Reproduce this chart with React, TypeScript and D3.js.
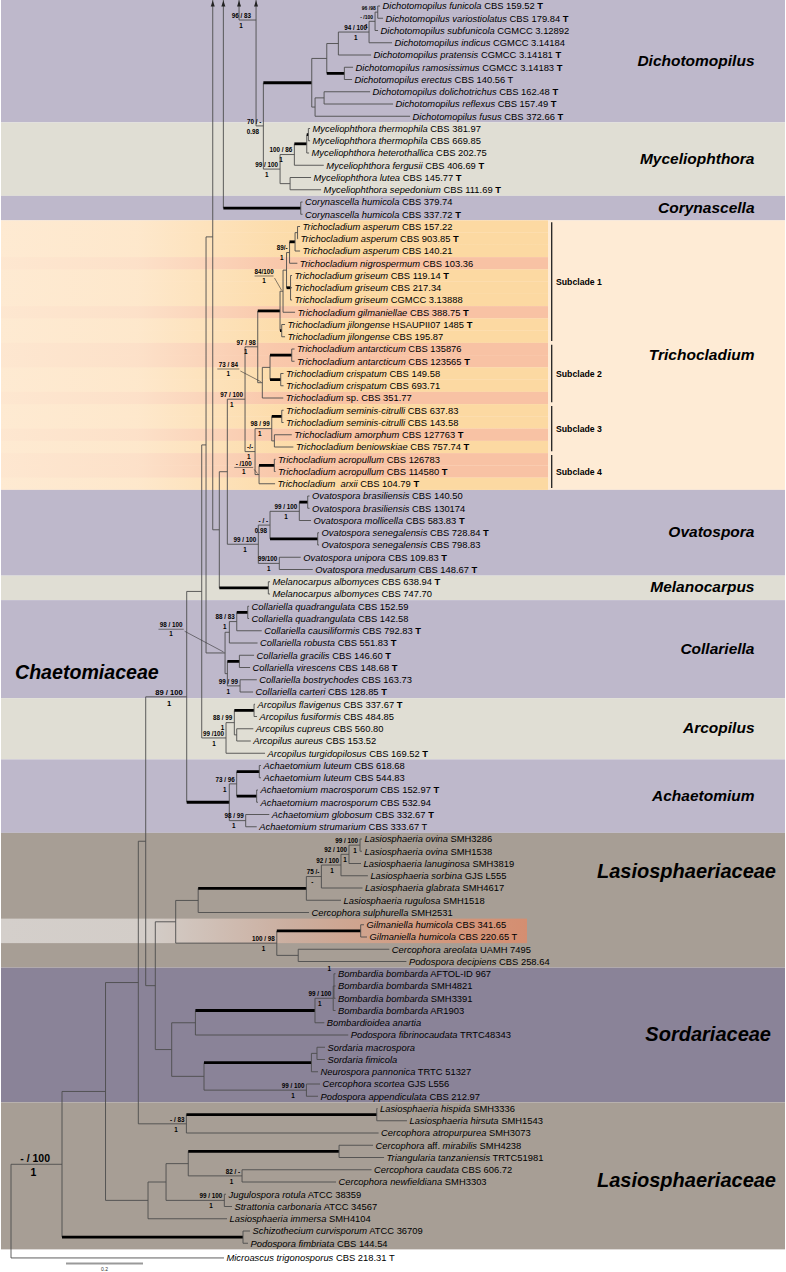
import React from 'react';
import * as d3 from 'd3';

const W = 786;
const H = 1272;
const FONT = "'Liberation Sans', Arial, Helvetica, sans-serif";

// ---------------- DATA ----------------
// [name (italic; words in [] roman), strain, type-flag: B bold T, R regular T]
const taxa: [string, string, string][] = [
  ['Dichotomopilus funicola', 'CBS 159.52', 'B'],
  ['Dichotomopilus variostiolatus', 'CBS 179.84', 'B'],
  ['Dichotomopilus subfunicola', 'CGMCC 3.12892', ''],
  ['Dichotomopilus indicus', 'CGMCC 3.14184', ''],
  ['Dichotomopilus pratensis', 'CGMCC 3.14181', 'B'],
  ['Dichotomopilus ramosissimus', 'CGMCC 3.14183', 'B'],
  ['Dichotomopilus erectus', 'CBS 140.56', 'R'],
  ['Dichotomopilus dolichotrichus', 'CBS 162.48', 'B'],
  ['Dichotomopilus reflexus', 'CBS 157.49', 'B'],
  ['Dichotomopilus fusus', 'CBS 372.66', 'B'],
  ['Myceliophthora thermophila', 'CBS 381.97', ''],
  ['Myceliophthora thermophila', 'CBS 669.85', ''],
  ['Myceliophthora heterothallica', 'CBS 202.75', ''],
  ['Myceliophthora fergusii', 'CBS 406.69', 'B'],
  ['Myceliophthora lutea', 'CBS 145.77', 'B'],
  ['Myceliophthora sepedonium', 'CBS 111.69', 'B'],
  ['Corynascella humicola', 'CBS 379.74', ''],
  ['Corynascella humicola', 'CBS 337.72', 'B'],
  ['Trichocladium asperum', 'CBS 157.22', ''],
  ['Trichocladium asperum', 'CBS 903.85', 'B'],
  ['Trichocladium asperum', 'CBS 140.21', ''],
  ['Trichocladium nigrospermum', 'CBS 103.36', ''],
  ['Trichocladium griseum', 'CBS 119.14', 'B'],
  ['Trichocladium griseum', 'CBS 217.34', ''],
  ['Trichocladium griseum', 'CGMCC 3.13888', ''],
  ['Trichocladium gilmaniellae', 'CBS 388.75', 'B'],
  ['Trichocladium jilongense', 'HSAUPII07 1485', 'B'],
  ['Trichocladium jilongense', 'CBS 195.87', ''],
  ['Trichocladium antarcticum', 'CBS 135876', ''],
  ['Trichocladium antarcticum', 'CBS 123565', 'B'],
  ['Trichocladium crispatum', 'CBS 149.58', ''],
  ['Trichocladium crispatum', 'CBS 693.71', ''],
  ['Trichocladium [sp.]', 'CBS 351.77', ''],
  ['Trichocladium seminis-citrulli', 'CBS 637.83', ''],
  ['Trichocladium seminis-citrulli', 'CBS 143.58', ''],
  ['Trichocladium amorphum', 'CBS 127763', 'B'],
  ['Trichocladium beniowskiae', 'CBS 757.74', 'B'],
  ['Trichocladium acropullum', 'CBS 126783', ''],
  ['Trichocladium acropullum', 'CBS 114580', 'B'],
  ['Trichocladium  arxii', 'CBS 104.79', 'B'],
  ['Ovatospora brasiliensis', 'CBS 140.50', ''],
  ['Ovatospora brasiliensis', 'CBS 130174', ''],
  ['Ovatospora mollicella', 'CBS 583.83', 'B'],
  ['Ovatospora senegalensis', 'CBS 728.84', 'B'],
  ['Ovatospora senegalensis', 'CBS 798.83', ''],
  ['Ovatospora unipora', 'CBS 109.83', 'B'],
  ['Ovatospora medusarum', 'CBS 148.67', 'B'],
  ['Melanocarpus albomyces', 'CBS 638.94', 'B'],
  ['Melanocarpus albomyces', 'CBS 747.70', ''],
  ['Collariella quadrangulata', 'CBS 152.59', ''],
  ['Collariella quadrangulata', 'CBS 142.58', ''],
  ['Collariella causiliformis', 'CBS 792.83', 'B'],
  ['Collariella robusta', 'CBS 551.83', 'B'],
  ['Collariella gracilis', 'CBS 146.60', 'B'],
  ['Collariella virescens', 'CBS 148.68', 'B'],
  ['Collariella bostrychodes', 'CBS 163.73', ''],
  ['Collariella carteri', 'CBS 128.85', 'B'],
  ['Arcopilus flavigenus', 'CBS 337.67', 'B'],
  ['Arcopilus fusiformis', 'CBS 484.85', ''],
  ['Arcopilus cupreus', 'CBS 560.80', ''],
  ['Arcopilus aureus', 'CBS 153.52', ''],
  ['Arcopilus turgidopilosus', 'CBS 169.52', 'B'],
  ['Achaetomium luteum', 'CBS 618.68', ''],
  ['Achaetomium luteum', 'CBS 544.83', ''],
  ['Achaetomium macrosporum', 'CBS 152.97', 'B'],
  ['Achaetomium macrosporum', 'CBS 532.94', ''],
  ['Achaetomium globosum', 'CBS 332.67', 'B'],
  ['Achaetomium strumarium', 'CBS 333.67', 'R'],
  ['Lasiosphaeria ovina', 'SMH3286', ''],
  ['Lasiosphaeria ovina', 'SMH1538', ''],
  ['Lasiosphaeria lanuginosa', 'SMH3819', ''],
  ['Lasiosphaeria sorbina', 'GJS L555', ''],
  ['Lasiosphaeria glabrata', 'SMH4617', ''],
  ['Lasiosphaeria rugulosa', 'SMH1518', ''],
  ['Cercophora sulphurella', 'SMH2531', ''],
  ['Gilmaniella humicola', 'CBS 341.65', ''],
  ['Gilmaniella humicola', 'CBS 220.65', 'R'],
  ['Cercophora areolata', 'UAMH 7495', ''],
  ['Podospora decipiens', 'CBS 258.64', ''],
  ['Bombardia bombarda', 'AFTOL-ID 967', ''],
  ['Bombardia bombarda', 'SMH4821', ''],
  ['Bombardia bombarda', 'SMH3391', ''],
  ['Bombardia bombarda', 'AR1903', ''],
  ['Bombardioidea anartia', '', ''],
  ['Podospora fibrinocaudata', 'TRTC48343', ''],
  ['Sordaria macrospora', '', ''],
  ['Sordaria fimicola', '', ''],
  ['Neurospora pannonica', 'TRTC 51327', ''],
  ['Cercophora scortea', 'GJS L556', ''],
  ['Podospora appendiculata', 'CBS 212.97', ''],
  ['Lasiosphaeria hispida', 'SMH3336', ''],
  ['Lasiosphaeria hirsuta', 'SMH1543', ''],
  ['Cercophora atropurpurea', 'SMH3073', ''],
  ['Cercophora [aff.] mirabilis', 'SMH4238', ''],
  ['Triangularia tanzaniensis', 'TRTC51981', ''],
  ['Cercophora caudata', 'CBS 606.72', ''],
  ['Cercophora newfieldiana', 'SMH3303', ''],
  ['Jugulospora rotula', 'ATCC 38359', ''],
  ['Strattonia carbonaria', 'ATCC 34567', ''],
  ['Lasiosphaeria immersa', 'SMH4104', ''],
  ['Schizothecium curvisporum', 'ATCC 36709', ''],
  ['Podospora fimbriata', 'CBS 144.54', ''],
  ['Microascus trigonosporus', 'CBS 218.31', 'R'],
];
const outgroupIndex = 102;
const outgroupGap = 0.2;
// rows of lineages continuing above the figure (arrows)
const hiddenRows: Record<string, number> = { h1: -32.5, h2: -5.4, h3: -7.5 };

const highlightRows = [21, 25, 28, 29, 32, 35, 37, 38];
const gilmaniellaRows = [75, 76];

const bandNames = ['Dichotomopilus', 'Myceliophthora', 'Corynascella', 'Trichocladium', 'Ovatospora', 'Melanocarpus', 'Collariella', 'Arcopilus', 'Achaetomium', 'Lasiosphaeriaceae', 'Sordariaceae', 'Lasiosphaeriaceae'];
const bandFirst = [0, 10, 16, 18, 40, 47, 49, 57, 62, 68, 79, 90];
const bandLast = [9, 15, 17, 39, 46, 48, 56, 61, 67, 78, 89, 101];
const bandKind = ['lav', 'beige', 'lav', 'peach', 'lav', 'beige', 'lav', 'beige', 'lav', 'taupe', 'sord', 'taupe'];
const bandIsFamily = [false, false, false, false, false, false, false, false, false, true, true, true];
const familyLabelRow = [70.6, 83.9, 95.8];

const subcladeNames = ['Subclade 1', 'Subclade 2', 'Subclade 3', 'Subclade 4'];
const subcladeFirst = [18, 28, 33, 37];
const subcladeLast = [27, 32, 36, 39];

const scaleBarValue = 0.2;

// Tree (Newick): 'bootstrap|posterior|id', * = thick (fully supported) branch
const nwkDichotomopilus =
  "((((((t0:0.006,t1:0.0138)'96 /98||Dfv':0.007,t2:0.0078)'- /100|1|Dm':0.0156,t3:0.0597)'94 / 100|1':0.0797,t4:0.0849):0.0301,(t5:0.0226,t6:0.02)*:0.0457):0.039,((t7:0.1195,t8:0.1792):0.0234,t9:0.2468):0.0086)";
const nwkMyceliophthora =
  "((((t10:0.0044,t11:0.0044)*:0.0042,t12:0.006)*:0.0322,t13:0.0764)'100 / 86|1':0.0371,(t14:0.0545,t15:0.0805):0.026)'99 / 100|1'";
const nwkN263 = '(' + nwkDichotomopilus + '*:0.1257,' + nwkMyceliophthora + ":0.0434)'70 / -|0.98'";
const nwkN256 = '(h3:0.02,' + nwkN263 + ":0.019)'96 / 83|1|N256'";
const nwkN239 = '(h2:0.02,' + nwkN256 + ':0.0442)';
const nwkCorynascella = '(h1:0.02,(t16:0.0047,t17:0.0047)*:0.201)';
const nwkTop = '(' + nwkCorynascella + ':0.0216,' + nwkN239 + ':0.0623)';

const nwkSub1 =
  "((((((t18:0.0065,t19:0.0013):0.0065,t20:0.013)*:0.0143,t21:0.0203)'89/-|1':0.0078,(t22:0.0039,t23:0.0039,t24:0.0039)*:0.0104):0.0091,t25:0.0312)'84/100|1|N283':0.0078,(t26:0.0086,t27:0.0086)*:0.0044)";
const nwkSub2 =
  "(((t28:0.0073,t29:0.0073)*:0.0564,(t30:0.0073,t31:0.0073)*:0.0278):0.02,t32:0.0545)'73 / 84|1|S2'";
const nwkSub3 = "((t33:0.0047,t34:0.0047)*:0.026,(t35:0.0452,t36:0.0494):0.0068)'98 / 99|1'";
const nwkSub4 = "((t37:0.0031,t38:0.0031)*:0.0397,t39:0.0416)'- /100|1|S4'";
const nwkTrichocladium =
  '((' + nwkSub1 + '*:0.0579,' + nwkSub2 + ":0.0119)'97 / 98|1':0.033,(" + nwkSub3 + ':0.0434,' + nwkSub4 + ":0.0104)'-/-|1':0.026)'97 / 100|1'";
const nwkOvatospora =
  "((((t40:0.0047,t41:0.0047)*:0.0218,t42:0.0304)'99 / 100|1':0.0761,(t43:0.0034,t44:0.0034)*:0.1239)'- / -|0.98':0.0304,(t45:0.0556,t46:0.0868)'99/100|1':0.0545)'99 / 100|1'";
const nwkN219 = '((' + nwkTrichocladium + ':0.046,' + nwkOvatospora + ':0.0805):0.0208,(t47:0.0044,t48:0.0044)*:0.1273)';
const nwkN212 = '(' + nwkTop + ':0.006,' + nwkN219 + ':0.0171)';
const nwkCollariella =
  "((((t49:0.0034,t50:0.0034)*:0.0286,t51:0.0649)'88 / 83|1':0.0192,t52:0.0732):0.0112,((t53:0.0382,t54:0.0278)*:0.0312,(t55:0.0434,t56:0.0338)'99 / 99|1':0.033):0.006)'98 / 100|1|C0'";
const nwkArcopilus =
  "(((t57:0.0026,t58:0.0078)*:0.0512,(t59:0.0431,t60:0.0364):0.0062)'88 / 99|1':0.0216,t61:0.1013)'99 /100|1'";
const nwkAchaetomium =
  "(((t62:0.0044,t63:0.0044)*:0.0587,(t64:0.0034,t65:0.0034)*:0.0519)'73 / 96|1':0.0192,(t66:0.0613,t67:0.0286)'98 / 99|1':0.0426)";
const nwkChaetomiaceae =
  '(((' + nwkN212 + ':0.0174,' + nwkCollariella + ':0.0494):0.0112,' + nwkArcopilus + ':0.0631):0.039,' + nwkAchaetomium + "*:0.1106)'89 / 100|1|CH'";
const nwkLasioUpper =
  "(((((((t68:0.0052,t69:0.0052)'99 / 100|1|OV':0.0286,t70:0.0312)'92 / 100|1|OL':0.0208,t71:0.0699)'92 / 100|1|P1c':0.0509,t72:0.1068)'75 /-|-':0.039,t73:0.0899)*:0.281,t74:0.2878):0.0584,((t75:0.0086,t76:0.0164)*:0.2179,(t77:0.2366,t78:0.281):0.0556)'100 / 98|1':0.2626)";
const nwkSordariaceae =
  "(((((t79:0.004,t80:0.004,t81:0.004)'1||BT':0.002,t82:0.006)'99 / 100|1':0.0473,t83:0.0242)*:0.3106,t84:0.3969):0.0616,(((t85:0.0208,t86:0.0208):0.0145,t87:0.0171)*:0.279,(t88:0.0353,t89:0.0301)'99 / 100|1':0.266):0.0839)";
const nwkHispida = "((t90:0.0018,t91:0.0784)*:0.4945,t92:0.4992)'- / 83|1'";
const nwkLasioLower =
  "((((t93:0.0883,t94:0.1169)*:0.3917,(t95:0.3364,t96:0.2442)'82 / -|1':0.1397):0.0577,(t97:0.0044,t98:0.02)'99 / 100|1':0.1514):0.0468,t99:0.2052)";
const nwkTree =
  '(((((' + nwkChaetomiaceae + ':0.1065,(' + nwkLasioUpper + ':0.053,' + nwkSordariaceae + ':0.0426):0.0249):0.0192,' +
  nwkHispida + ':0.1249):0.0852,' + nwkLasioLower + ":0.1104):0.113,(t100:0.0182,t101:0.013)*:0.4701)'- / 100|1|A':0.1325,t102:0.5532)";

// ---------------- STYLE ----------------
const colors: Record<string, string> = {
  lav: '#BEB8CB',
  beige: '#E0DED4',
  peach: '#FEEBD5',
  taupe: '#A79E95',
  sord: '#8A8398',
};
const labelStyle: Record<string, any> = {
  A: { fs: 10.5, dx: -12 },
  CH: { fs: 7.6, dx: -4 },
  Dfv: { fs: 5 },
  Dm: { fs: 5 },
  N256: { dx: -5 },
  OV: { postX: -3 },
  OL: { postX: -2 },
  P1c: { postX: -7 },
  N283: { callout: [-19, -15.2] },
  S2: { callout: [-34, -13.7] },
  S4: { callout: [-15.3, -7.1] },
  C0: { callout: [-54, -23.7] },
  BT: { top: true },
};

// ---------------- PARSER ----------------
type PNode = { name?: string; label?: string; len: number; thick: boolean; children: PNode[] };
function parseNewick(s: string): PNode {
  let i = 0;
  const ws = () => { while (i < s.length && /\s/.test(s[i])) i++; };
  function node(): PNode {
    ws();
    const n: PNode = { len: 0, thick: false, children: [] };
    if (s[i] === '(') {
      i++;
      n.children.push(node());
      ws();
      while (s[i] === ',') { i++; n.children.push(node()); ws(); }
      if (s[i] !== ')') throw new Error('Expected ) at ' + i);
      i++;
      ws();
      if (s[i] === "'") {
        const j = s.indexOf("'", i + 1);
        n.label = s.slice(i + 1, j);
        i = j + 1;
      }
    } else {
      let j = i;
      while (j < s.length && !":,()*;' ".includes(s[j])) j++;
      n.name = s.slice(i, j);
      i = j;
    }
    ws();
    if (s[i] === '*') { n.thick = true; i++; }
    ws();
    if (s[i] === ':') {
      i++;
      let j = i;
      while (j < s.length && /[0-9.eE+-]/.test(s[j])) j++;
      n.len = parseFloat(s.slice(i, j));
      i = j;
    }
    return n;
  }
  const r = node();
  if (i < s.length) throw new Error('Unparsed newick remainder at ' + i);
  return r;
}

function rowOf(name: string): number {
  if (name.startsWith('h')) return hiddenRows[name];
  const k = +name.slice(1);
  return k === outgroupIndex ? k + outgroupGap : k;
}

// ---------------- COMPONENT ----------------
export default function App() {
  const xScale = d3.scaleLinear().domain([0, 1]).range([11, 396]);
  const yScale = d3.scaleLinear().domain([0, 102]).range([6, 1255.5]);
  const rowH = yScale(1) - yScale(0);

  const root: any = d3.hierarchy(parseNewick(nwkTree), (d: PNode) => (d.children.length ? d.children : null));
  root.eachBefore((n: any) => {
    n.cum = (n.parent ? n.parent.cum : 0) + (n.parent ? n.data.len : 0);
    n.px = xScale(n.cum);
  });
  root.eachAfter((n: any) => {
    if (!n.children) n.py = yScale(rowOf(n.data.name));
    else n.py = (n.children[0].py + n.children[n.children.length - 1].py) / 2;
  });

  const nodes: any[] = root.descendants();
  const thin = '#4d4d4d';

  const branchEls: any[] = [];
  const arrowEls: any[] = [];
  const supportEls: any[] = [];
  const leafEls: any[] = [];

  nodes.forEach((n: any, idx: number) => {
    const hidden = !n.children && n.data.name.startsWith('h');
    if (n.parent && !hidden && n.py > -20) {
      branchEls.push(
        <line key={'h' + idx} x1={n.parent.px} x2={n.px} y1={n.py} y2={n.py}
          stroke={n.data.thick ? '#000' : thin} strokeWidth={n.data.thick ? 2.8 : 0.9} />
      );
    }
    if (n.children) {
      const ys = n.children.map((c: any) => c.py);
      const y0 = Math.min(...ys), y1 = Math.max(...ys);
      if (y1 > 0) {
        branchEls.push(
          <line key={'v' + idx} x1={n.px} x2={n.px} y1={Math.max(y0, 0)} y2={y1} stroke={thin} strokeWidth={0.9} />
        );
        if (y0 < 0) {
          arrowEls.push(
            <path key={'a' + idx} d={`M${n.px},0.5L${n.px - 2},6.5L${n.px + 2},6.5Z`} fill="#222" />
          );
        }
      }
      if (n.data.label) {
        const [boot, post, id] = n.data.label.split('|');
        const st = (id && labelStyle[id]) || {};
        const fs = st.fs || 6.3;
        const bw = boot.length * fs * 0.5;
        if (st.callout) {
          const cx = n.px + st.callout[0];
          const uy = n.py + st.callout[1];
          supportEls.push(
            <g key={'s' + idx}>
              <text x={cx} y={uy - 1.8} fontSize={fs} fontWeight="bold" textAnchor="middle">{boot}</text>
              <line x1={cx - bw / 2} x2={cx + bw / 2} y1={uy} y2={uy} stroke="#333" strokeWidth={0.6} />
              <text x={cx} y={uy + 7} fontSize={fs} fontWeight="bold" textAnchor="middle">{post}</text>
              <line x1={cx + bw / 2 + 1} y1={uy + 2} x2={n.px - 1.5} y2={n.py - 1} stroke="#333" strokeWidth={0.6} />
            </g>
          );
        } else if (st.top) {
          supportEls.push(
            <text key={'s' + idx} x={n.px - 3} y={y0 - 2.5} fontSize={fs} fontWeight="bold" textAnchor="end">{boot}</text>
          );
        } else {
          const dx = st.dx || -2;
          const right = n.px + dx;
          const postX = st.postX !== undefined ? right + st.postX : right - bw * 0.45;
          supportEls.push(
            <g key={'s' + idx}>
              <text x={right} y={n.py - 2.2} fontSize={fs} fontWeight="bold" textAnchor="end">{boot}</text>
              {post ? (
                <text x={postX} y={n.py + fs + 1.4} fontSize={fs} fontWeight="bold" textAnchor="middle">{post}</text>
              ) : null}
            </g>
          );
        }
      }
    } else if (!hidden) {
      const k = +n.data.name.slice(1);
      const [nm, strain, type] = taxa[k];
      const parts = nm.split(/(\[[^\]]+\])/).filter((p) => p.length);
      leafEls.push(
        <text key={'l' + idx} x={n.px + 2.5} y={n.py} dy="0.35em" fontSize={9.4} style={{ whiteSpace: 'pre' }}>
          {parts.map((p, j) =>
            p.startsWith('[') ? (
              <tspan key={j}>{p.slice(1, -1)}</tspan>
            ) : (
              <tspan key={j} fontStyle="italic">{p}</tspan>
            )
          )}
          {strain ? <tspan>{' ' + strain}</tspan> : null}
          {type ? <tspan fontWeight={type === 'B' ? 'bold' : 'normal'}>{' T'}</tspan> : null}
        </text>
      );
    }
  });

  // bands
  const bandEls = bandNames.map((name, i) => {
    const y0 = Math.max(0, yScale(bandFirst[i] - 0.5));
    const y1 = yScale(bandLast[i] + 0.5);
    return <rect key={'b' + i} x={1} y={y0} width={784} height={y1 - y0} fill={colors[bandKind[i]]} />;
  });

  const trichoRows = d3.range(bandFirst[3], bandLast[3] + 1);
  const rowEls = trichoRows.map((r) => (
    <rect key={'r' + r} x={1} y={yScale(r - 0.5)} width={547} height={rowH}
      fill={highlightRows.includes(r) ? 'url(#gPink)' : 'url(#gOrange)'} />
  ));
  const gilY0 = yScale(gilmaniellaRows[0] - 0.5);
  const gilY1 = yScale(gilmaniellaRows[gilmaniellaRows.length - 1] + 0.5);

  let famI = 0;
  const bandLabelEls = bandNames.map((name, i) => {
    if (bandIsFamily[i]) {
      const r = familyLabelRow[famI++];
      return (
        <text key={'bl' + i} x={name === 'Sordariaceae' ? 771 : 776} y={yScale(r)} dy="0.35em" fontSize={20}
          fontWeight="bold" fontStyle="italic" textAnchor="end">{name}</text>
      );
    }
    const yc = (yScale(bandFirst[i] - 0.5) + yScale(bandLast[i] + 0.5)) / 2 - 1;
    return (
      <text key={'bl' + i} x={754.5} y={yc} dy="0.35em" fontSize={15.5} fontWeight="bold" fontStyle="italic" textAnchor="end">{name}</text>
    );
  });

  const subEls = subcladeNames.map((s, i) => {
    const y0 = yScale(subcladeFirst[i]) - 4.2;
    const y1 = yScale(subcladeLast[i]) + 4.2;
    return (
      <g key={'sc' + i}>
        <line x1={551.7} x2={551.7} y1={y0} y2={y1} stroke="#222" strokeWidth={1.3} />
        <text x={556} y={(y0 + y1) / 2} dy="0.35em" fontSize={8.7} fontWeight="bold">{s}</text>
      </g>
    );
  });

  const sbX0 = 66;
  const sbX1 = sbX0 + (xScale(scaleBarValue) - xScale(0));

  return (
    <svg width={W} height={H} style={{ position: 'absolute', left: 0, top: 0, background: '#fff' }}
      fontFamily={FONT}>
      <defs>
        <linearGradient id="gOrange" x1="0" x2="1" y1="0" y2="0">
          <stop offset="0" stopColor="#FCD9A2" stopOpacity={0.06} />
          <stop offset="0.25" stopColor="#FCD9A2" stopOpacity={0.18} />
          <stop offset="0.5" stopColor="#FCD9A2" stopOpacity={0.8} />
          <stop offset="0.62" stopColor="#FCD9A2" stopOpacity={1} />
          <stop offset="1" stopColor="#FCD9A2" stopOpacity={1} />
        </linearGradient>
        <linearGradient id="gPink" x1="0" x2="1" y1="0" y2="0">
          <stop offset="0" stopColor="#F8C2A4" stopOpacity={0.1} />
          <stop offset="0.25" stopColor="#F8C2A4" stopOpacity={0.25} />
          <stop offset="0.5" stopColor="#F8C2A4" stopOpacity={0.85} />
          <stop offset="0.62" stopColor="#F8C2A4" stopOpacity={1} />
          <stop offset="1" stopColor="#F8C2A4" stopOpacity={1} />
        </linearGradient>
        <linearGradient id="gGil" x1="0" x2="1" y1="0" y2="0">
          <stop offset="0" stopColor="#D4CFCB" />
          <stop offset="0.28" stopColor="#D3CDC8" />
          <stop offset="0.55" stopColor="#CBAE9F" />
          <stop offset="0.8" stopColor="#D39A7F" />
          <stop offset="1" stopColor="#D48E71" />
        </linearGradient>
      </defs>
      {bandEls}
      {rowEls}
      <rect x={1} y={gilY0} width={526} height={gilY1 - gilY0} fill="url(#gGil)" />
      {bandLabelEls}
      <text x={15} y={672} dy="0.35em" fontSize={19.6} fontWeight="bold" fontStyle="italic">Chaetomiaceae</text>
      {subEls}
      {branchEls}
      {arrowEls}
      {supportEls}
      {leafEls}
      <line x1={sbX0} x2={sbX1} y1={1263.5} y2={1263.5} stroke="#9a9a9a" strokeWidth={1.8} />
      <text x={(sbX0 + sbX1) / 2} y={1270.5} fontSize={5} textAnchor="middle" fill="#333">{scaleBarValue}</text>
    </svg>
  );
}
